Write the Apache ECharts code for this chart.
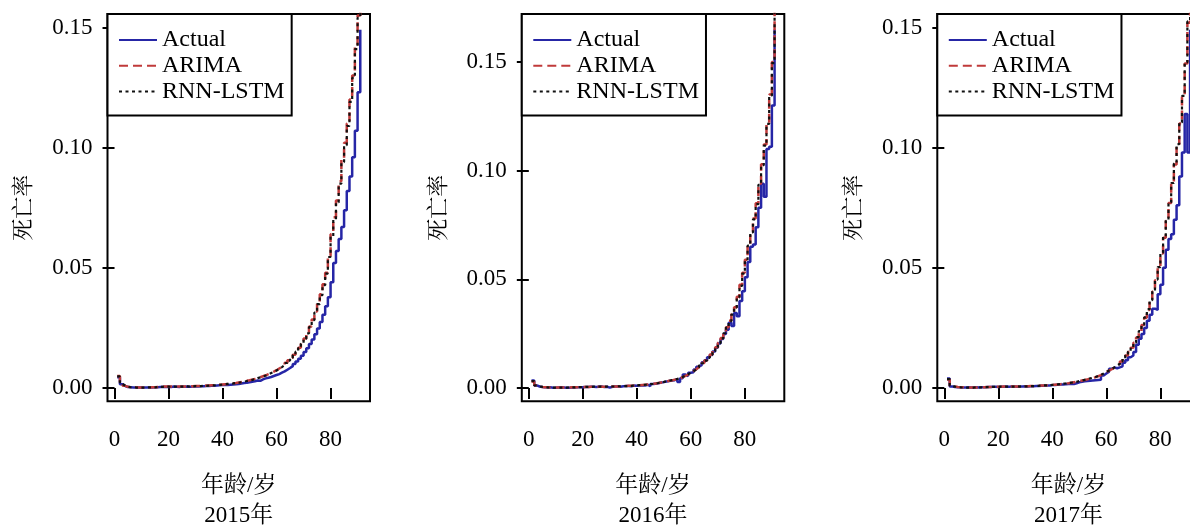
<!DOCTYPE html>
<html>
<head>
<meta charset="utf-8">
<script src="https://cdn.jsdelivr.net/npm/echarts@6/dist/echarts.min.js"></script>
<style>html,body{margin:0;padding:0;background:#fff;}#c{width:1190px;height:527px;}</style>
</head>
<body>
<div id="c"></div>
<script>
const ages = [1,2,3,4,5,6,7,8,9,10,11,12,13,14,15,16,17,18,19,20,21,22,23,24,25,26,27,28,29,30,31,32,33,34,35,36,37,38,39,40,41,42,43,44,45,46,47,48,49,50,51,52,53,54,55,56,57,58,59,60,61,62,63,64,65,66,67,68,69,70,71,72,73,74,75,76,77,78,79,80,81,82,83,84,85,86,87,88,89,90,91];
const xTicks = [0, 20, 40, 60, 80];
const yTicks = [0, 0.05, 0.10, 0.15];
const seriesNames = ['Actual', 'ARIMA', 'RNN-LSTM'];
const panelYears = ['2015年', '2016年', '2017年'];

const actual2015 = [0.0045,0.0016,0.0008,0.0004,0.0003,0.0002,0.0002,0.0002,0.0002,0.0002,
0.0002,0.0002,0.0002,0.0003,0.0003,0.0004,0.0005,0.0004,0.0005,0.0004,
0.0006,0.0005,0.0004,0.0006,0.0005,0.0006,0.0005,0.0006,0.0007,0.0006,
0.0007,0.0007,0.0008,0.0008,0.0009,0.0009,0.0010,0.0011,0.0012,0.0012,
0.0013,0.0014,0.0015,0.0016,0.0017,0.0019,0.0021,0.0022,0.0024,0.0026,
0.0028,0.0031,0.0030,0.0036,0.0040,0.0043,0.0046,0.0050,0.0054,0.0058,
0.0064,0.0069,0.0076,0.0083,0.0091,0.0100,0.0110,0.0122,0.0134,0.0150,
0.0165,0.0183,0.0202,0.0224,0.0248,0.0275,0.0305,0.0340,0.0378,0.0440,
0.0520,0.0570,0.0620,0.0670,0.0740,0.0820,0.0880,0.0960,0.1070,0.1230,0.1490];
const arima2015 = [0.0050,0.0018,0.0009,0.0005,0.0004,0.0003,0.0003,0.0002,0.0002,0.0002,
0.0002,0.0002,0.0003,0.0003,0.0004,0.0005,0.0006,0.0006,0.0006,0.0006,
0.0006,0.0006,0.0006,0.0006,0.0006,0.0007,0.0007,0.0007,0.0008,0.0008,
0.0009,0.0009,0.0010,0.0010,0.0011,0.0012,0.0013,0.0014,0.0015,0.0016,
0.0017,0.0018,0.0020,0.0021,0.0023,0.0025,0.0027,0.0030,0.0032,0.0035,
0.0038,0.0042,0.0045,0.0049,0.0053,0.0058,0.0063,0.0068,0.0074,0.0081,
0.0088,0.0096,0.0105,0.0115,0.0126,0.0138,0.0152,0.0168,0.0186,0.0206,
0.0230,0.0256,0.0285,0.0318,0.0352,0.0390,0.0432,0.0480,0.0550,0.0640,
0.0710,0.0780,0.0860,0.0950,0.1020,0.1100,0.1200,0.1300,0.1420,0.1550,0.1680];
const lstm2015 = [0.0048,0.0017,0.0009,0.0005,0.0003,0.0003,0.0002,0.0002,0.0002,0.0002,
0.0002,0.0003,0.0003,0.0003,0.0004,0.0005,0.0005,0.0006,0.0006,0.0005,
0.0006,0.0006,0.0005,0.0006,0.0006,0.0007,0.0006,0.0007,0.0008,0.0007,
0.0008,0.0009,0.0009,0.0010,0.0011,0.0011,0.0012,0.0013,0.0014,0.0016,
0.0017,0.0018,0.0019,0.0021,0.0022,0.0024,0.0026,0.0029,0.0031,0.0034,
0.0037,0.0041,0.0044,0.0048,0.0052,0.0057,0.0062,0.0067,0.0073,0.0080,
0.0087,0.0095,0.0104,0.0114,0.0125,0.0137,0.0151,0.0166,0.0184,0.0204,
0.0227,0.0253,0.0282,0.0314,0.0349,0.0386,0.0428,0.0476,0.0545,0.0632,
0.0702,0.0772,0.0850,0.0940,0.1010,0.1090,0.1190,0.1290,0.1410,0.1540,0.1670];

const actual2016 = [0.0035,0.0012,0.0007,0.0005,0.0004,0.0002,0.0003,0.0001,0.0001,0.0002,
0.0003,0.0002,0.0001,0.0001,0.0002,0.0002,0.0003,0.0004,0.0004,0.0005,
0.0005,0.0006,0.0006,0.0005,0.0006,0.0007,0.0004,0.0006,0.0002,0.0006,
0.0007,0.0007,0.0006,0.0008,0.0009,0.0009,0.0008,0.0011,0.0010,0.0012,
0.0013,0.0011,0.0015,0.0008,0.0018,0.0020,0.0022,0.0025,0.0027,0.0030,
0.0032,0.0034,0.0036,0.0040,0.0028,0.0045,0.0062,0.0055,0.0070,0.0072,
0.0085,0.0098,0.0105,0.0118,0.0128,0.0142,0.0152,0.0168,0.0185,0.0205,
0.0225,0.0248,0.0268,0.0300,0.0285,0.0345,0.0330,0.0400,0.0445,0.0510,
0.0580,0.0650,0.0660,0.0740,0.0830,0.0940,0.0880,0.1100,0.1110,0.1300,0.1650];
const arima2016 = [0.0030,0.0013,0.0008,0.0005,0.0004,0.0003,0.0002,0.0002,0.0002,0.0002,
0.0002,0.0002,0.0002,0.0002,0.0003,0.0003,0.0004,0.0004,0.0005,0.0005,
0.0005,0.0006,0.0006,0.0006,0.0006,0.0006,0.0006,0.0006,0.0006,0.0007,
0.0007,0.0007,0.0008,0.0008,0.0009,0.0010,0.0010,0.0011,0.0012,0.0013,
0.0014,0.0015,0.0016,0.0017,0.0019,0.0021,0.0023,0.0025,0.0028,0.0030,
0.0033,0.0035,0.0038,0.0041,0.0045,0.0050,0.0056,0.0062,0.0070,0.0078,
0.0086,0.0095,0.0105,0.0115,0.0127,0.0140,0.0154,0.0170,0.0188,0.0208,
0.0230,0.0254,0.0280,0.0310,0.0340,0.0372,0.0420,0.0475,0.0530,0.0590,
0.0660,0.0720,0.0780,0.0850,0.0940,0.1030,0.1120,0.1220,0.1350,0.1500,0.1750];
const lstm2016 = [0.0032,0.0012,0.0007,0.0005,0.0004,0.0003,0.0002,0.0002,0.0002,0.0002,
0.0002,0.0002,0.0002,0.0003,0.0003,0.0003,0.0004,0.0004,0.0004,0.0005,
0.0005,0.0005,0.0006,0.0006,0.0006,0.0006,0.0006,0.0007,0.0006,0.0007,
0.0007,0.0008,0.0008,0.0008,0.0009,0.0009,0.0010,0.0011,0.0012,0.0013,
0.0014,0.0015,0.0016,0.0018,0.0019,0.0021,0.0023,0.0026,0.0028,0.0031,
0.0033,0.0036,0.0039,0.0042,0.0046,0.0051,0.0057,0.0063,0.0070,0.0077,
0.0085,0.0094,0.0104,0.0114,0.0126,0.0139,0.0153,0.0169,0.0187,0.0206,
0.0228,0.0252,0.0278,0.0308,0.0338,0.0370,0.0416,0.0470,0.0526,0.0586,
0.0655,0.0716,0.0776,0.0846,0.0935,0.1025,0.1115,0.1215,0.1345,0.1495,0.1740];

const actual2017 = [0.0040,0.0006,0.0004,0.0003,0.0003,0.0002,0.0002,0.0003,0.0002,0.0002,
0.0003,0.0002,0.0003,0.0003,0.0004,0.0004,0.0005,0.0005,0.0004,0.0005,
0.0005,0.0006,0.0005,0.0006,0.0006,0.0005,0.0006,0.0006,0.0007,0.0006,
0.0007,0.0007,0.0008,0.0008,0.0009,0.0009,0.0010,0.0010,0.0012,0.0013,
0.0014,0.0015,0.0015,0.0016,0.0017,0.0018,0.0017,0.0020,0.0024,0.0026,
0.0028,0.0029,0.0030,0.0031,0.0032,0.0033,0.0034,0.0052,0.0060,0.0068,
0.0080,0.0085,0.0082,0.0086,0.0090,0.0105,0.0115,0.0128,0.0135,0.0150,
0.0180,0.0205,0.0225,0.0250,0.0280,0.0305,0.0330,0.0325,0.0390,0.0430,
0.0500,0.0575,0.0620,0.0640,0.0700,0.0760,0.0880,0.0980,0.1140,0.0980,0.1490];
const arima2017 = [0.0035,0.0010,0.0006,0.0004,0.0003,0.0003,0.0002,0.0002,0.0002,0.0002,
0.0002,0.0003,0.0003,0.0003,0.0004,0.0004,0.0005,0.0005,0.0005,0.0005,
0.0006,0.0006,0.0006,0.0006,0.0006,0.0006,0.0006,0.0007,0.0007,0.0007,
0.0008,0.0008,0.0009,0.0009,0.0010,0.0010,0.0011,0.0012,0.0013,0.0014,
0.0015,0.0016,0.0017,0.0019,0.0020,0.0022,0.0024,0.0026,0.0028,0.0031,
0.0033,0.0036,0.0039,0.0042,0.0045,0.0049,0.0054,0.0060,0.0066,0.0072,
0.0078,0.0085,0.0092,0.0100,0.0110,0.0122,0.0135,0.0150,0.0168,0.0188,
0.0210,0.0235,0.0262,0.0292,0.0325,0.0362,0.0402,0.0448,0.0500,0.0560,
0.0625,0.0695,0.0770,0.0850,0.0930,0.1010,0.1100,0.1210,0.1350,0.1520,0.1700];
const lstm2017 = [0.0037,0.0009,0.0006,0.0004,0.0003,0.0002,0.0002,0.0002,0.0002,0.0002,
0.0003,0.0003,0.0003,0.0004,0.0004,0.0004,0.0005,0.0005,0.0005,0.0006,
0.0006,0.0006,0.0006,0.0006,0.0006,0.0007,0.0006,0.0007,0.0007,0.0007,
0.0008,0.0008,0.0009,0.0009,0.0010,0.0011,0.0011,0.0012,0.0013,0.0014,
0.0015,0.0016,0.0018,0.0019,0.0021,0.0022,0.0024,0.0026,0.0029,0.0031,
0.0034,0.0037,0.0040,0.0043,0.0046,0.0050,0.0055,0.0060,0.0066,0.0073,
0.0079,0.0086,0.0093,0.0101,0.0111,0.0123,0.0136,0.0151,0.0169,0.0189,
0.0212,0.0237,0.0264,0.0294,0.0328,0.0365,0.0405,0.0451,0.0503,0.0563,
0.0628,0.0698,0.0773,0.0853,0.0934,0.1015,0.1105,0.1215,0.1355,0.1525,0.1705];

const panelData = [
  [actual2015, arima2015, lstm2015],
  [actual2016, arima2016, lstm2016],
  [actual2017, arima2017, lstm2017]
];
const yRanges = [[-0.00553, 0.1556], [-0.00612, 0.1721], [-0.00553, 0.1556]];
const gridLefts = [107.5, 521.8, 937.3];

const LATIN = "'Liberation Serif', 'Times New Roman', 'Noto Serif CJK SC', 'Noto Sans CJK SC', serif";
const styles = [
  { color: '#2626a6', width: 2.5, type: 'solid' },
  { color: '#c03a3a', width: 2.5, type: [9, 5] },
  { color: '#111111', width: 2.2, type: [3, 3.5] }
];

const grids = [], xAxes = [], yAxes = [], series = [], legends = [];
for (let p = 0; p < 3; p++) {
  grids.push({ left: gridLefts[p], top: 14, width: 262.5, height: 387.3, show: true,
    borderColor: '#000', borderWidth: 2, backgroundColor: 'transparent',
    containLabel: false, outerBoundsMode: 'none' });
  xAxes.push({
    type: 'value', gridIndex: p, min: -2.6, max: 94.6, offset: 2.5,
    axisLine: { show: false },
    axisTick: { show: true, length: 11, lineStyle: { color: '#000', width: 2 }, customValues: xTicks },
    axisLabel: { show: true, margin: 25, color: '#000', fontSize: 23, fontFamily: LATIN, customValues: xTicks },
    splitLine: { show: false },
    name: '年龄/岁\n' + panelYears[p], nameLocation: 'middle', nameGap: 67,
    nameTextStyle: { color: '#000', fontSize: 23, fontFamily: LATIN, lineHeight: 30 }
  });
  yAxes.push({
    type: 'value', gridIndex: p, min: yRanges[p][0], max: yRanges[p][1], offset: 1,
    axisLine: { show: false },
    axisTick: { show: true, length: 12, lineStyle: { color: '#000', width: 2 }, customValues: yTicks },
    axisLabel: { show: true, margin: 14, color: '#000', fontSize: 23, fontFamily: LATIN, customValues: yTicks,
      formatter: v => Number(v).toFixed(2) },
    splitLine: { show: false },
    name: '死亡率', nameLocation: 'middle', nameGap: 71, nameRotate: 90,
    nameTextStyle: { color: '#000', fontSize: 22, fontFamily: LATIN }
  });
  for (let s = 0; s < 3; s++) {
    series.push({
      name: seriesNames[s], type: 'line', xAxisIndex: p, yAxisIndex: p,
      data: ages.map((a, i) => [a, panelData[p][s][i]]),
      step: 'end', symbol: 'none', clip: true, silent: true, animation: false,
      lineStyle: { color: styles[s].color, width: styles[s].width, type: styles[s].type },
      itemStyle: { color: styles[s].color },
      z: 2 + s
    });
  }
  legends.push({
    data: seriesNames, orient: 'vertical', left: gridLefts[p], top: 14,
    padding: [14, 7, 12, 10.5], itemWidth: 38, itemHeight: 24, itemGap: 1.8,
    backgroundColor: '#fff', borderColor: '#000', borderWidth: 2, borderRadius: 0,
    selectedMode: false,
    itemStyle: { opacity: 0, borderWidth: 0 },
    textStyle: { color: '#000', fontSize: 24, fontFamily: LATIN, lineHeight: 24 },
    z: 10
  });
}

const chart = echarts.init(document.getElementById('c'), null, { renderer: 'canvas' });
chart.setOption({
  animation: false,
  backgroundColor: '#fff',
  grid: grids, xAxis: xAxes, yAxis: yAxes, series: series, legend: legends
});
</script>
</body>
</html>
